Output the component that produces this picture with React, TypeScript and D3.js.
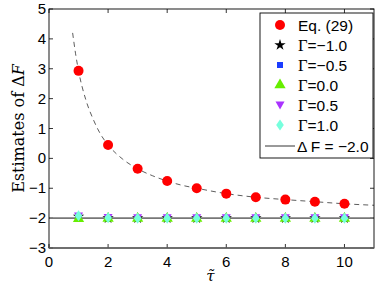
import { useRef, useEffect } from 'react';
import * as d3 from 'd3';

// tau values and estimates
const taus = [1, 2, 3, 4, 5, 6, 7, 8, 9, 10];
const eq29 = [2.93, 0.45, -0.35, -0.76, -1.0, -1.18, -1.3, -1.38, -1.45, -1.52];
const gammaM10 = [-1.95, -2.0, -2.0, -2.0, -2.0, -2.0, -2.0, -2.0, -2.0, -2.0];
const gammaM05 = [-1.96, -2.0, -2.0, -2.0, -2.0, -2.0, -2.0, -2.0, -2.0, -2.0];
const gamma00 = [-2.02, -2.01, -2.01, -2.01, -2.01, -2.01, -2.01, -2.01, -2.01, -2.01];
const gamma05 = [-1.93, -1.98, -1.99, -1.99, -1.99, -1.99, -1.99, -1.99, -1.99, -1.99];
const gamma10 = [-1.92, -1.99, -2.0, -2.0, -2.0, -2.0, -2.0, -2.0, -2.0, -2.0];

// dashed fit curve
const curveX = [0.8, 0.9, 1, 1.25, 1.5, 1.75, 2, 2.5, 3, 3.5, 4, 4.5, 5, 6, 7, 8, 9, 10, 11];
const curveY = [4.2, 3.5, 2.93, 1.95, 1.3, 0.8, 0.45, -0.03, -0.35, -0.58, -0.76, -0.9, -1.0, -1.18, -1.3, -1.38, -1.45, -1.52, -1.57];

const trueDF = -2.0;
const xTicks = [0, 2, 4, 6, 8, 10];
const yTicks = [-3, -2, -1, 0, 1, 2, 3, 4, 5];

const legendLabels = ['Eq. (29)', 'Γ=−1.0', 'Γ=−0.5', 'Γ=0.0', 'Γ=0.5', 'Γ=1.0', 'Δ F = −2.0'];

export default function App() {
  const svgRef = useRef<SVGSVGElement>(null);

  useEffect(() => {
    if (!svgRef.current) return;
    const svg = d3.select(svgRef.current);
    svg.selectAll('*').remove();

    const margin = { top: 9, right: 8, bottom: 39, left: 49 };
    const W = 382;
    const H = 287;
    const width = W - margin.left - margin.right;
    const height = H - margin.top - margin.bottom;

    const x = d3.scaleLinear().domain([0, 11]).range([0, width]);
    const y = d3.scaleLinear().domain([-3, 5]).range([height, 0]);

    const g = svg.append('g').attr('transform', `translate(${margin.left},${margin.top})`);
    const font = '"Liberation Sans", Arial, sans-serif';

    // ticks (inside, on all four sides)
    const tl = 4;
    xTicks.forEach((t) => {
      g.append('line').attr('x1', x(t)).attr('x2', x(t)).attr('y1', height).attr('y2', height - tl).attr('stroke', '#000').attr('stroke-width', 0.8);
      g.append('line').attr('x1', x(t)).attr('x2', x(t)).attr('y1', 0).attr('y2', tl).attr('stroke', '#000').attr('stroke-width', 0.8);
      g.append('text').attr('x', x(t)).attr('y', height + 19).attr('text-anchor', 'middle')
        .attr('font-family', font).attr('font-size', 15).text(t);
    });
    yTicks.forEach((t) => {
      g.append('line').attr('x1', 0).attr('x2', tl).attr('y1', y(t)).attr('y2', y(t)).attr('stroke', '#000').attr('stroke-width', 0.8);
      g.append('line').attr('x1', width).attr('x2', width - tl).attr('y1', y(t)).attr('y2', y(t)).attr('stroke', '#000').attr('stroke-width', 0.8);
      g.append('text').attr('x', -3).attr('y', y(t) + 5).attr('text-anchor', 'end')
        .attr('font-family', font).attr('font-size', 15).text(t < 0 ? `−${-t}` : `${t}`);
    });

    // true value line
    g.append('line').attr('x1', 0).attr('x2', width).attr('y1', y(trueDF)).attr('y2', y(trueDF))
      .attr('stroke', '#777').attr('stroke-width', 1.6);

    // dashed curve
    const line = d3.line<number>().x((_, i) => x(curveX[i])).y((d) => y(d)).curve(d3.curveMonotoneX);
    g.append('path').attr('d', line(curveY)).attr('fill', 'none').attr('stroke', '#333')
      .attr('stroke-width', 0.8).attr('stroke-dasharray', '5,4');

    const sym = (type: d3.SymbolType, size: number) => d3.symbol().type(type).size(size)() as string;
    const diamond = 'M0,-5.5L3.8,0L0,5.5L-3.8,0Z';
    const triDown = 'M-4.5,-3.5L4.5,-3.5L0,4.5Z';

    const series = [
      { vals: gammaM10, d: sym(d3.symbolStar, 40), fill: '#000' },
      { vals: gammaM05, d: sym(d3.symbolSquare, 36), fill: '#1a3cff' },
      { vals: gamma00, d: sym(d3.symbolTriangle, 55), fill: '#66ee00' },
      { vals: gamma05, d: triDown, fill: '#aa33ff' },
      { vals: gamma10, d: diamond, fill: '#77ffdd' },
    ];
    series.forEach((s) => {
      g.selectAll(null).data(s.vals).join('path')
        .attr('d', s.d)
        .attr('transform', (d, i) => `translate(${x(taus[i])},${y(d)})`)
        .attr('fill', s.fill);
    });

    g.selectAll(null).data(eq29).join('circle')
      .attr('cx', (_, i) => x(taus[i])).attr('cy', (d) => y(d)).attr('r', 5).attr('fill', '#ff0000');

    // frame
    g.append('rect').attr('x', 0).attr('y', 0).attr('width', width).attr('height', height)
      .attr('fill', 'none').attr('stroke', '#000').attr('stroke-width', 0.9);
    g.append('line').attr('x1', 0).attr('x2', width).attr('y1', height).attr('y2', height)
      .attr('stroke', '#666').attr('stroke-width', 1.6);

    // legend
    const lg = svg.append('g').attr('transform', 'translate(260,13)');
    lg.append('rect').attr('x', 0).attr('y', 0).attr('width', 113).attr('height', 145)
      .attr('fill', '#fff').attr('stroke', '#000').attr('stroke-width', 0.9);
    const marks = [
      (el: any) => el.append('circle').attr('r', 5).attr('fill', '#ff0000'),
      (el: any) => el.append('path').attr('d', sym(d3.symbolStar, 40)).attr('fill', '#000'),
      (el: any) => el.append('path').attr('d', sym(d3.symbolSquare, 36)).attr('fill', '#1a3cff'),
      (el: any) => el.append('path').attr('d', sym(d3.symbolTriangle, 55)).attr('fill', '#66ee00'),
      (el: any) => el.append('path').attr('d', triDown).attr('fill', '#aa33ff'),
      (el: any) => el.append('path').attr('d', diamond).attr('fill', '#77ffdd'),
    ];
    legendLabels.forEach((lab, i) => {
      const cy = 12 + i * 20 + (i === 6 ? 1 : 0);
      if (i < 6) {
        marks[i](lg.append('g').attr('transform', `translate(20,${cy})`));
      } else {
        lg.append('line').attr('x1', 5).attr('x2', 35).attr('y1', cy).attr('y2', cy)
          .attr('stroke', '#000').attr('stroke-width', 0.8);
      }
      const t = lg.append('text').attr('x', i === 6 ? 37 : 38).attr('y', cy + 5.5)
        .attr('font-family', font).attr('font-size', 15.5);
      if (lab.startsWith('Γ')) {
        t.append('tspan').attr('font-family', '"Liberation Serif", serif').attr('font-size', 16.5).text('Γ');
        t.append('tspan').text(lab.slice(1));
      } else {
        t.text(lab);
      }
    });

    // axis labels
    const ylab = svg.append('text')
      .attr('transform', `translate(24,${margin.top + height / 2}) rotate(-90)`)
      .attr('text-anchor', 'middle').attr('font-family', '"DejaVu Serif", "Liberation Serif", serif').attr('font-size', 16);
    ylab.append('tspan').text('Estimates of Δ');
    ylab.append('tspan').attr('font-style', 'italic').text('F');

    svg.append('text').attr('x', margin.left + width / 2 - 1).attr('y', 281).attr('text-anchor', 'middle')
      .attr('font-family', '"DejaVu Serif", serif').attr('font-style', 'italic').attr('font-size', 15)
      .text('τ\u0303');
  }, []);

  return (
    <svg ref={svgRef} width={382} height={287} style={{ position: 'absolute', left: 0, top: 0, background: '#fff' }} />
  );
}
